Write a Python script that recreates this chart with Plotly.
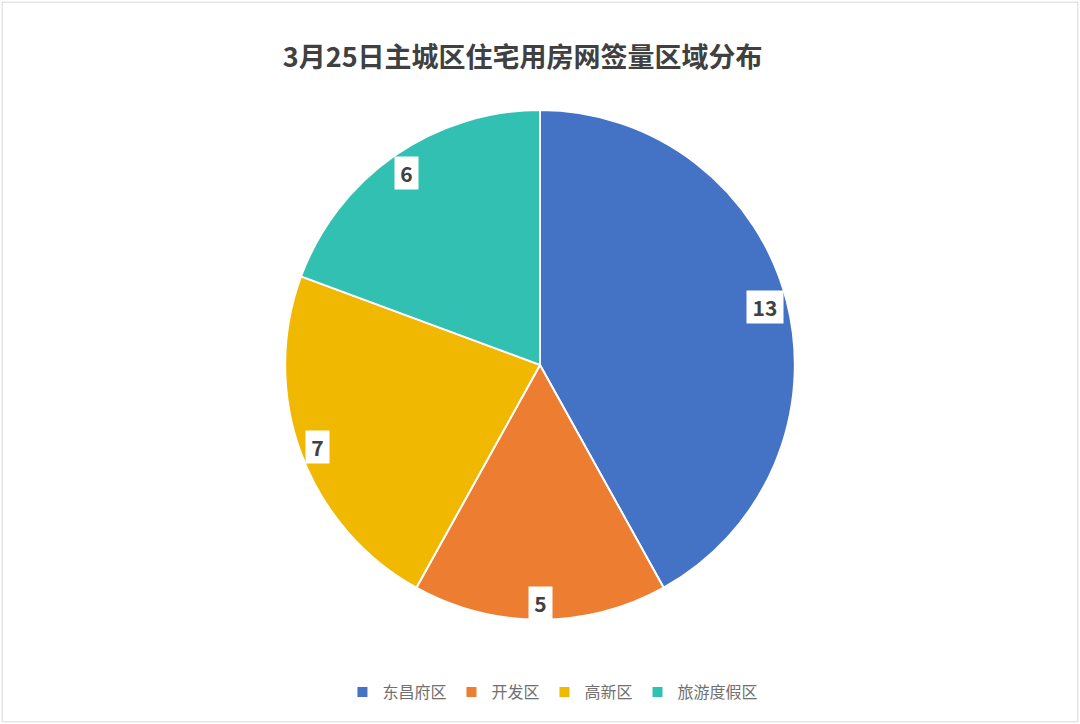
import math
import plotly.graph_objects as go

# data
districts = ["东昌府区", "开发区", "高新区", "旅游度假区"]
counts = [13, 5, 7, 6]
colors = ["#4472C4", "#ED7D31", "#F0B800", "#32C0B2"]

title_text = "3月25日主城区住宅用房网签量区域分布"

W, H = 1080, 724
# pie domain (paper coords)
dom_x = [0.264, 0.736]
dom_y = [0.144, 0.848]

fig = go.Figure(
    data=[
        go.Pie(
            labels=districts,
            values=counts,
            sort=False,
            direction="clockwise",
            rotation=0,
            textinfo="none",
            marker=dict(colors=colors, line=dict(color="white", width=2)),
            domain=dict(x=dom_x, y=dom_y),
            hovertemplate="%{label}: %{value}<extra></extra>",
        )
    ]
)

# value labels in white boxes, "inside end" like excel:
# box pushed out along the slice's mid ray until its corner meets the rim
cx = (dom_x[0] + dom_x[1]) / 2 * W
cy = (dom_y[0] + dom_y[1]) / 2 * H
radius = min((dom_x[1] - dom_x[0]) * W, (dom_y[1] - dom_y[0]) * H) / 2
pad = 5
box_h = 22
total = sum(counts)
cum = 0
annotations = []
for v in counts:
    mid = (cum + v / 2) / total * 2 * math.pi
    cum += v
    box_w = 13 * len(str(v))
    hw = box_w / 2 + pad
    hh = box_h / 2 + pad
    r = radius - (hw * abs(math.sin(mid)) + hh * abs(math.cos(mid))) - 1
    px = cx + r * math.sin(mid)
    py = cy + r * math.cos(mid)
    annotations.append(
        dict(
            x=px / W,
            y=py / H,
            xref="paper",
            yref="paper",
            xanchor="center",
            yanchor="middle",
            text="<b>%d</b>" % v,
            showarrow=False,
            bgcolor="white",
            borderpad=pad,
            width=box_w,
            height=box_h,
            valign="middle",
            font=dict(size=21, color="#404040", family="Noto Sans CJK SC"),
        )
    )

fig.update_layout(
    width=W,
    height=H,
    margin=dict(l=0, r=0, t=0, b=0),
    paper_bgcolor="white",
    plot_bgcolor="white",
    title=dict(
        text="<b>" + title_text + "</b>",
        x=0.484,
        xanchor="center",
        y=1 - 58 / H,
        yanchor="middle",
        font=dict(size=27, color="#404040", family="Noto Sans CJK SC"),
    ),
    legend=dict(
        orientation="h",
        x=0.512,
        xanchor="center",
        y=1 - 692 / H,
        yanchor="middle",
        font=dict(size=16, color="#707070", family="Noto Sans CJK SC"),
        itemwidth=30,
        traceorder="normal",
    ),
    annotations=annotations,
    shapes=[
        dict(
            type="rect",
            xref="paper",
            yref="paper",
            x0=0.002,
            x1=0.998,
            y0=0.003,
            y1=0.997,
            line=dict(color="#D9D9D9", width=1),
        )
    ],
)

fig.write_html(
    "out.html",
    config={"displayModeBar": False},
    post_script="document.body.style.margin='0';",
)
